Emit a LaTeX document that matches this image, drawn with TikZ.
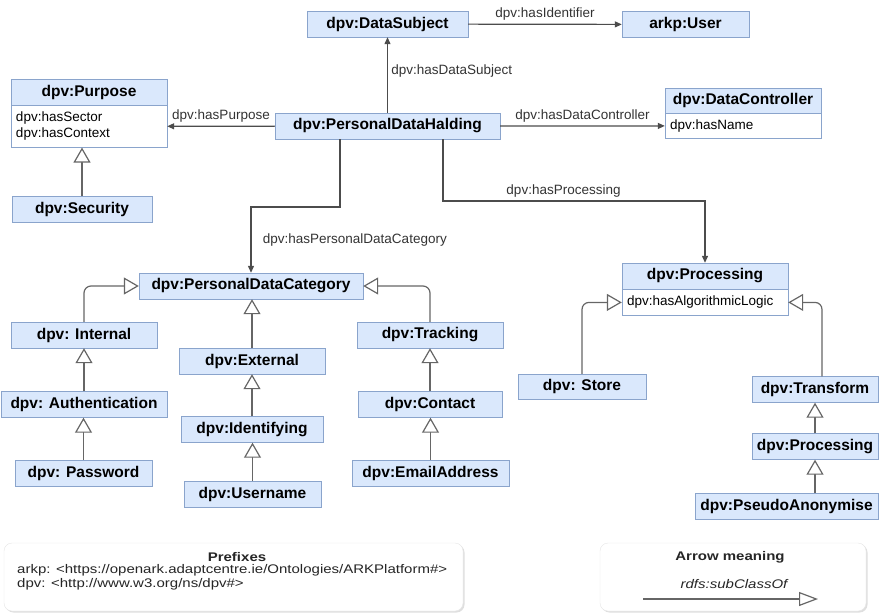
\documentclass[tikz,border=0pt]{standalone}
\usepackage{fontspec}
\setmainfont{Liberation Sans}
\usepackage{xcolor}
\usepackage{graphicx}
\usepackage{tikz}
\usetikzlibrary{arrows.meta, positioning, shadows}

\definecolor{classfill}{HTML}{DAE8FC}
\definecolor{classline}{HTML}{8AA4CC}

% legend lettering is set a little wider than tall
\newcommand{\widetxt}[1]{\scalebox{1.2}[1]{#1}}

\begin{document}
\begin{tikzpicture}[x=1pt, y=-1pt,
			class/.style={draw=classline, fill=classfill, rectangle, minimum height=26pt, inner sep=0pt, font=\fontsize{15.5}{18}\selectfont\bfseries},
			attrs/.style={draw=classline, fill=white, rectangle, inner xsep=5pt, inner ysep=0pt, align=left, font=\fontsize{13.5}{16}\selectfont},
			link/.style={draw=black!70, line width=1.2pt, -{Triangle[length=7pt, width=6pt]}},
			subclass/.style={draw=black!60, line width=1.2pt, rounded corners=7pt, -{Triangle[open, length=15pt, width=17pt, fill=white]}},
			lbl/.style={font=\fontsize{13.5}{16}\selectfont, text=black!80},
			legendbox/.style={draw=black!10, fill=white, rounded corners=8pt, drop shadow={shadow xshift=1.5pt, shadow yshift=-1.5pt, opacity=0.25}},
			legendtext/.style={font=\fontsize{12.5}{14}\selectfont, text=black!85, inner sep=1pt}
			]
			\useasboundingbox (0,0) rectangle (880,615);
			
			\node [class, minimum width=161pt](subject) at (387.5,24) {dpv:DataSubject};
			\node [class, minimum width=127pt](user) at (685.5,24.5) {arkp:User};
			
			\node [class, minimum width=225pt](halding) at (387.5,126) {dpv:PersonalDataHalding};
			
			\node [class, minimum width=156pt](purpose) at (89,92) {dpv:Purpose};
			\node [attrs, text width=146pt, minimum height=42pt](purposeattrs) [below=0pt of purpose] {dpv:hasSector\\dpv:hasContext};
			\node [class, minimum width=140pt](security) at (82,209) {dpv:Security};
			
			\node [class, minimum width=156pt, minimum height=25pt](controller) at (743,100.5) {dpv:DataController};
			\node [attrs, text width=146pt, minimum height=25pt](controllerattrs) [below=0pt of controller] {dpv:hasName};
			
			% personal data categories
			\node [class, minimum width=224pt](category) at (251,286) {dpv:PersonalDataCategory};
			
			\node [class, minimum width=146pt](internal) at (84,335) {dpv: Internal};
			\node [class, minimum width=166pt](authentication) at (84,404.5) {dpv: Authentication};
			\node [class, minimum width=137pt](password) at (83.5,473) {dpv: Password};
			
			\node [class, minimum width=146pt](external) at (252,361) {dpv:External};
			\node [class, minimum width=142pt](identifying) at (252,429.5) {dpv:Identifying};
			\node [class, minimum width=137pt](username) at (252.5,494) {dpv:Username};
			
			\node [class, minimum width=146pt](tracking) at (430,335) {dpv:Tracking};
			\node [class, minimum width=144pt](contact) at (430,404.5) {dpv:Contact};
			\node [class, minimum width=157pt](email) at (430.5,473) {dpv:EmailAddress};
			
			% processing
			\node [class, minimum width=166pt](processing) at (705,276) {dpv:Processing};
			\node [attrs, text width=156pt, minimum height=26pt](processingattrs) [below=0pt of processing] {dpv:hasAlgorithmicLogic};
			
			\node [class, minimum width=128pt, minimum height=25pt](store) at (582,386.5) {dpv: Store};
			\node [class, minimum width=126pt](transform) at (815,389.5) {dpv:Transform};
			\node [class, minimum width=126pt](process2) at (815,446.5) {dpv:Processing};
			\node [class, minimum width=183pt](pseudo) at (786.5,506) {dpv:PseudoAnonymise};
			
			\coordinate (catbend) at (251,207);
			\coordinate (procbend) at (705,201);
			
			\draw[link] (subject) -- (user) node[lbl, midway, above] {dpv:hasIdentifier};
			\draw[link] (halding) -- (subject) node[lbl, pos=0.55, right] {dpv:hasDataSubject};
			\draw[link] (halding) -- (purposeattrs) node[lbl, midway, above] {dpv:hasPurpose};
			\draw[link] (halding) -- (controllerattrs) node[lbl, midway, above] {dpv:hasDataController};
			
			\draw[link] ([xshift=-47.5pt]halding.south) |- (catbend) -- (category) node[lbl, midway, right, xshift=8pt] {dpv:hasPersonalDataCategory};
			\draw[link] ([xshift=55.5pt]halding.south) |- node[lbl, pos=0.73, above] {dpv:hasProcessing} (procbend) -- (processing);
			
			\draw[subclass] (security.north) -- (security.north |- purposeattrs.south);
			
			\draw[subclass] (internal.north) |- (category.west);
			\draw[subclass] (tracking.north) |- (category.east);
			\draw[subclass] (external.north) -- (external.north |- category.south);
			
			\draw[subclass] (authentication.north) -- (authentication.north |- internal.south);
			\draw[subclass] (password.north) -- (password.north |- authentication.south);
			\draw[subclass] (identifying.north) -- (identifying.north |- external.south);
			\draw[subclass] (username.north) -- (username.north |- identifying.south);
			\draw[subclass] (contact.north) -- (contact.north |- tracking.south);
			\draw[subclass] (email.north) -- (email.north |- contact.south);
			
			\draw[subclass] (store.north) |- (processingattrs.west);
			\draw[subclass] ([xshift=7pt]transform.north) |- (processingattrs.east);
			\draw[subclass] (process2.north) -- (process2.north |- transform.south);
			\draw[subclass] (pseudo.north -| process2) -- (process2);
			
			% legend
			\node [legendbox, minimum width=459pt, minimum height=68pt](prefixes) at (233.5,577) {};
			\node [legendtext, font=\fontsize{12.5}{14}\selectfont\bfseries](prefixtitle) at (237,557) {\widetxt{Prefixes}};
			\node [legendtext, anchor=west](arkp) at (16,570.5) {\widetxt{arkp: <https://openark.adaptcentre.ie/Ontologies/ARKPlatform\#>}};
			\node [legendtext, anchor=west](dpv) at (16,584) {\widetxt{dpv: <http://www.w3.org/ns/dpv\#>}};
			
			\node [legendbox, minimum width=266pt, minimum height=68pt](arrows) at (733,577) {};
			\node [legendtext, font=\fontsize{12.5}{14}\selectfont\bfseries](arrowtitle) at (730,557) {\widetxt{Arrow meaning}};
			\node [legendtext, font=\fontsize{12.5}{14}\selectfont\itshape](subclassof) at (734,584) {\widetxt{rdfs:subClassOf}};
			\coordinate (subfrom) at (643,599);
			\coordinate (subto) at (818,599);
			\draw[subclass, -{Triangle[open, length=19pt, width=14pt, fill=white]}] (subfrom) -- (subto);
			
		\end{tikzpicture}
\end{document}
